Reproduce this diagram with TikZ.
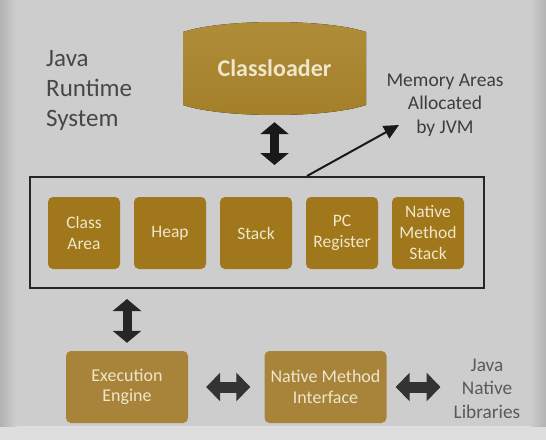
\documentclass[tikz,border=0pt]{standalone}
\usepackage{fontspec}
\setmainfont{Carlito}
\usepackage{xcolor}
\usepackage{tikz}
\usetikzlibrary{positioning,arrows.meta,calc}
\definecolor{bgmid}{HTML}{CDCDCD}
\definecolor{bgedge}{HTML}{B3B3B3}
\definecolor{bglow}{HTML}{DEDEDE}
\definecolor{clgoldtop}{HTML}{B08D38}
\definecolor{clgoldbot}{HTML}{A37F2A}
\definecolor{memgold}{HTML}{A0771A}
\definecolor{engold}{HTML}{A8843A}
\definecolor{cream}{HTML}{EFE6CC}
\definecolor{labdark}{HTML}{474747}
\definecolor{labgray}{HTML}{3E3E3E}
\definecolor{libgray}{HTML}{5A5A5A}

\begin{document}
\begin{tikzpicture}[x=1pt,y=-1pt,>=Latex,
  mem/.style={rectangle,rounded corners=5pt,fill=memgold,text=cream,minimum width=72pt,minimum height=72pt,inner sep=0pt,align=center,font=\fontsize{17.5}{21}\selectfont},
  eng/.style={rectangle,rounded corners=5pt,fill=engold,text=cream,minimum width=122pt,minimum height=72pt,inner sep=0pt,align=center,font=\fontsize{18}{20.5}\selectfont},
  lab/.style={inner sep=0pt,align=center},
  fatv/.style={line width=9pt,draw=black!90,{Triangle[width=28pt,length=12pt]}-{Triangle[width=28pt,length=12pt]}},
  fath/.style={line width=11pt,draw=black!80,{Triangle[width=28pt,length=14pt]}-{Triangle[width=28pt,length=14pt]}}]
% background
\useasboundingbox (0,0) rectangle (546,440);
\fill[bgmid] (0,0) rectangle (546,440);
\fill[bglow] (0,426) rectangle (546,440);
\shade[left color=bgedge,right color=bgmid] (0,0) rectangle (16,426);
\shade[left color=bgmid,right color=bgedge] (530,0) rectangle (546,426);
% classloader
\fill[top color=clgoldtop,bottom color=clgoldbot] (183,32) .. controls (223,18.7) and (326,18.7) .. (366,32)
  -- (366,105) .. controls (326,118.3) and (223,118.3) .. (183,105) -- cycle;
\node[text=cream,font=\fontsize{24}{29}\selectfont\bfseries,minimum width=183pt,minimum height=93pt,inner sep=0pt] (cl) at (274.5,68.5) {Classloader};
\node[lab,anchor=west,align=left,text=labdark,font=\fontsize{25}{30}\selectfont] (jrs) at (46,90) {Java\\Runtime\\System};
\node[lab,text=labgray,font=\fontsize{19.5}{23.5}\selectfont] (mem) at (445,105) {Memory Areas\\Allocated\\by JVM};
\coordinate (memtip) at (399,125);
% memory areas
\node[draw=black!85,line width=2pt,minimum width=454pt,minimum height=111pt,inner sep=0pt] (jvm) at (257,232.5) {};
\node[mem] (ca) at (84,233) {Class\\Area};
\node[mem] (hp) at (170,233) {Heap};
\node[mem] (stk) at (256,233) {Stack};
\node[mem] (pc) at (342,233) {PC\\Register};
\node[mem] (nms) at (428,233) {Native\\Method\\Stack};
% engine and native side
\node[eng] (ee) at (127,387) {Execution\\Engine};
\node[eng] (nmi) at (325.5,387) {Native Method\\Interface};
\node[lab,text=libgray,font=\fontsize{19.3}{23.5}\selectfont] (jnl) at (487,388.5) {Java\\Native\\Libraries};
\draw[fatv,shorten <=7pt,shorten >=11pt] (cl.south) -- (cl.south |- jvm.north);
\draw[line width=2pt,draw=black!90,-{Triangle[width=14pt,length=15pt]}] ($(jvm.north)+(50,0)$) -- (memtip);
\draw[fatv,draw=black!85,shorten <=10pt,shorten >=8pt] (ee.north |- jvm.south) -- (ee.north);
\draw[fath,shorten <=18pt,shorten >=14pt] (ee.east) -- (nmi.west);
\draw[fath,shorten <=9pt,shorten >=13pt] (nmi.east) -- (nmi.east -| jnl.west);
\end{tikzpicture}
\end{document}
